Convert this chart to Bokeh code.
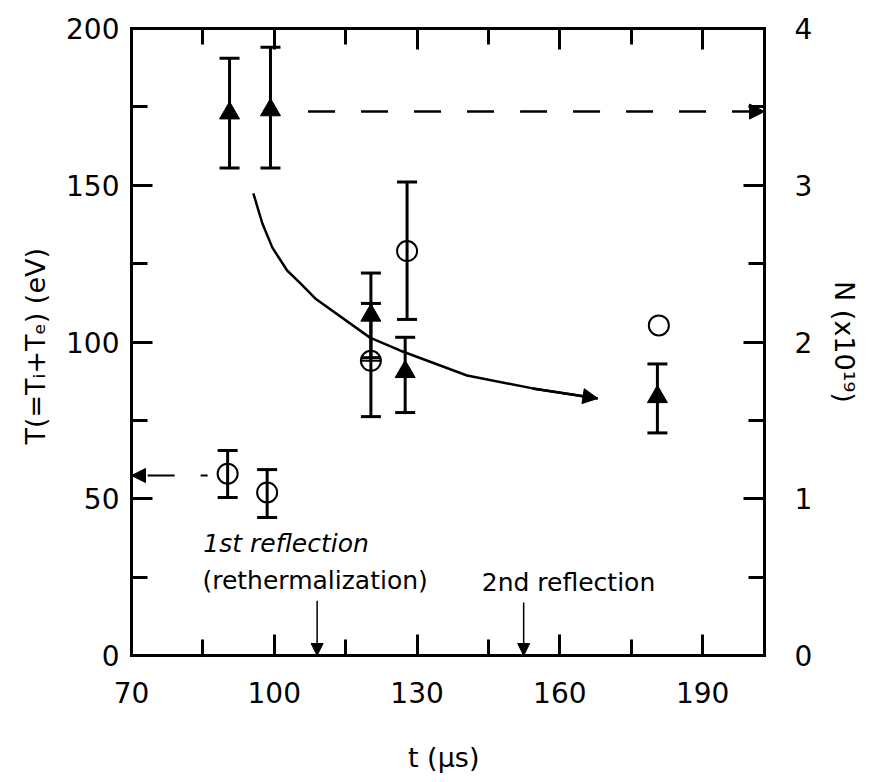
from bokeh.plotting import figure
from bokeh.models import (Range1d, LinearAxis, FixedTicker, Whisker, TeeHead,
                          ColumnDataSource, Arrow, NormalHead, CustomJSTickFormatter)
from bokeh.core.properties import value
from bokeh.embed import file_html
from bokeh.resources import INLINE

# ---------------- data ----------------
# open circles: temperature T (left axis, eV)
t_T = [90.2, 98.5, 120.3, 127.9, 180.8]
T_vals = [58.0, 52.0, 94.0, 129.0, 105.3]
T_markers = ["circle", "circle", "circle_cross", "circle", "circle"]
T_err_t = [90.2, 98.5, 120.3, 127.9]
T_err_lo = [50.4, 44.0, 76.2, 107.2]
T_err_hi = [65.4, 59.3, 112.3, 151.0]

# filled triangles: particle number N (right axis, x10^19)
t_N = [90.6, 99.2, 120.3, 127.5, 180.5]
N_vals = [3.46, 3.48, 2.17, 1.81, 1.65]
N_err_lo = [3.11, 3.11, 1.90, 1.55, 1.42]
N_err_hi = [3.81, 3.88, 2.44, 2.03, 1.86]

# axes ticks
x_ticks = [70, 100, 130, 160, 190]
x_minor = [85, 115, 145, 175]
T_ticks = [0, 50, 100, 150, 200]
T_minor = [25, 75, 125, 175]
N_ticks = [0, 1, 2, 3, 4]
N_minor = [0.5, 1.5, 2.5, 3.5]

# trend curve (annotation, in t / T units)
curve_t = [95.6, 97.5, 99.6, 102.7, 105.5, 108.6, 120.1, 126.4, 140.5, 154.3, 168.0]
curve_T = [147.4, 137.8, 130.1, 122.8, 118.7, 113.9, 101.4, 97.3, 89.3, 85.2, 82.0]

# annotations
ann_text = ["1st reflection", "(rethermalization)", "2nd reflection"]
ann_t = [85.1, 84.9, 143.6]
ann_T = [35.7, 23.9, 23.3]
ann_style = ["italic", "normal", "normal"]
refl_t = [109.0, 152.4]
refl_top = [17.5, 16.9]

FONT = "DejaVu Sans"

p = figure(frame_width=633, frame_height=627,
           x_range=Range1d(70, 203), y_range=Range1d(0, 200),
           output_backend="svg", toolbar_location=None,
           x_axis_type=None, y_axis_type=None,
           min_border_left=131, min_border_right=110,
           min_border_top=28, min_border_bottom=126,
           background_fill_color="white", border_fill_color="white")
p.outline_line_color = None
p.grid.visible = False
p.extra_y_ranges = {"N": Range1d(0, 4)}


def style(ax):
    ax.axis_line_width = 3
    ax.axis_line_cap = "square"
    ax.major_tick_line_width = 3
    ax.minor_tick_line_width = 3
    ax.major_tick_in = 21
    ax.major_tick_out = 0
    ax.minor_tick_in = 16
    ax.minor_tick_out = 0
    ax.major_label_text_font = FONT
    ax.major_label_text_font_size = "28px"
    ax.major_label_text_color = "black"
    ax.axis_label_text_font = FONT
    ax.axis_label_text_font_size = "27px"
    ax.axis_label_text_font_style = "normal"
    ax.axis_label_text_color = "black"


xb = LinearAxis(ticker=FixedTicker(ticks=x_ticks, minor_ticks=x_minor),
                axis_label="t  (μs)")
style(xb)
xb.major_label_standoff = 26
xb.axis_label_standoff = 36
p.add_layout(xb, "below")

xt = LinearAxis(ticker=FixedTicker(ticks=x_ticks, minor_ticks=x_minor),
                formatter=CustomJSTickFormatter(code="return ''"))
style(xt)
xt.major_label_text_font_size = "0px"
xt.major_label_standoff = 0
p.add_layout(xt, "above")

yl = LinearAxis(ticker=FixedTicker(ticks=T_ticks, minor_ticks=T_minor),
                axis_label="T(=Tᵢ+Tₑ)  (eV)")
style(yl)
yl.major_label_standoff = 12
yl.axis_label_standoff = 12
p.add_layout(yl, "left")

yr = LinearAxis(y_range_name="N",
                ticker=FixedTicker(ticks=N_ticks, minor_ticks=N_minor),
                axis_label="N (x10¹⁹)")
style(yr)
yr.major_label_standoff = 30
yr.axis_label_standoff = 14
p.add_layout(yr, "right")

# ---------- error bars ----------
srcTe = ColumnDataSource(dict(t=T_err_t, lo=T_err_lo, hi=T_err_hi))
p.add_layout(Whisker(base="t", lower="lo", upper="hi", source=srcTe,
                     line_width=3, line_color="black",
                     upper_head=TeeHead(size=20, line_width=3, line_color="black"),
                     lower_head=TeeHead(size=20, line_width=3, line_color="black")))

srcNe = ColumnDataSource(dict(t=t_N, lo=N_err_lo, hi=N_err_hi))
p.add_layout(Whisker(base="t", lower="lo", upper="hi", source=srcNe,
                     y_range_name="N",
                     line_width=3, line_color="black",
                     upper_head=TeeHead(size=20, line_width=3, line_color="black"),
                     lower_head=TeeHead(size=20, line_width=3, line_color="black")))

# ---------- markers ----------
srcT = ColumnDataSource(dict(t=t_T, T=T_vals, m=T_markers))
p.scatter(x="t", y="T", marker="m", size=20, source=srcT,
          fill_color="white", fill_alpha=0.0, line_color="black", line_width=2)

srcN = ColumnDataSource(dict(t=t_N, N=N_vals))
p.scatter(x="t", y="N", marker="triangle", size=20, source=srcN, y_range_name="N",
          fill_color="black", line_color="black", line_width=1)

# ---------- trend curve with arrow ----------
p.line(curve_t, curve_T, line_color="black", line_width=2.5, line_join="round")
p.add_layout(Arrow(end=NormalHead(size=15, fill_color="black", line_color="black", line_width=1),
                   x_start=curve_t[-2], y_start=curve_T[-2],
                   x_end=curve_t[-1], y_end=curve_T[-1],
                   line_color="black", line_width=2.5))

# ---------- dashed arrows pointing to axes ----------
N_level = 3.47
p.add_layout(Arrow(end=NormalHead(size=15, fill_color="black", line_color="black", line_width=1),
                   x_start=107.1, y_start=N_level, x_end=203, y_end=N_level,
                   y_range_name="N",
                   line_color="black", line_width=2.5, line_dash="27 26"))

T_level = 57.4
p.add_layout(Arrow(end=NormalHead(size=14, fill_color="black", line_color="black", line_width=1),
                   x_start=86.0, y_start=T_level, x_end=70, y_end=T_level,
                   line_color="black", line_width=2, line_dash="27 26",
                   line_dash_offset=20))

# ---------- reflection arrows ----------
for xt_, yt_ in zip(refl_t, refl_top):
    p.add_layout(Arrow(end=NormalHead(size=12, fill_color="black", line_color="black", line_width=1),
                       x_start=xt_, y_start=yt_, x_end=xt_, y_end=0,
                       line_color="black", line_width=1.5))

srcA = ColumnDataSource(dict(t=ann_t, T=ann_T, txt=ann_text, st=ann_style))
p.text(x="t", y="T", text="txt", source=srcA, text_font=value(FONT),
       text_font_size="25px", text_font_style="st", text_color="black",
       text_align="left", text_baseline="middle")

open("out.html", "w").write(file_html(p, INLINE))
